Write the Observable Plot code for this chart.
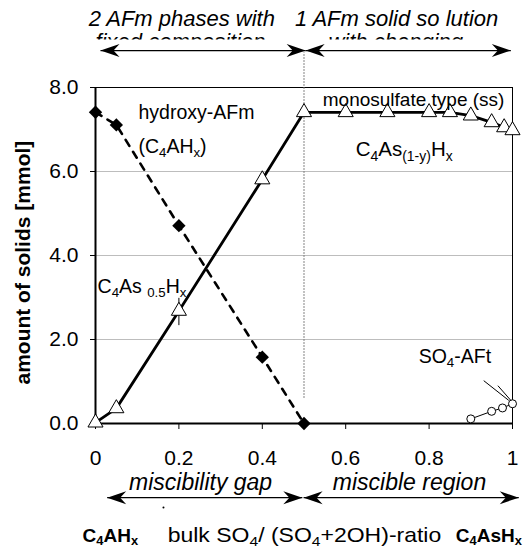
<!DOCTYPE html>
<html><head><meta charset="utf-8">
<script src="https://cdn.jsdelivr.net/npm/d3@7"></script>
<script src="https://cdn.jsdelivr.net/npm/@observablehq/plot@0.6"></script>
<style>body{margin:0;background:#fff;}</style>
</head><body><div id="chart"></div>
<script>
// ---- data ----
const triX = [0, 0.05, 0.2, 0.4, 0.5, 0.6, 0.7, 0.8, 0.85, 0.9, 0.95, 0.98, 1.0];
const triY = [0.02, 0.36, 2.68, 5.81, 7.41, 7.41, 7.41, 7.41, 7.41, 7.33, 7.17, 7.05, 6.98];
const diaX = [0, 0.05, 0.2, 0.4, 0.5];
const diaY = [7.41, 7.11, 4.71, 1.58, 0];
const circX = [0.9, 0.95, 0.976, 1.0];
const circY = [0.11, 0.29, 0.37, 0.47];
const errX = [0.2];
const errLo = [2.33];
const errHi = [2.98];
const xTicks = [0, 0.2, 0.4, 0.6, 0.8, 1];
const yTicks = [0, 2, 4, 6, 8];
const gridY = [2, 4, 6];
const topLine1 = ["2 AFm phases with", "1 AFm solid so lution"];
const topLine2 = ["fixed composition", "with changing"];
const bottomLine = ["miscibility gap", "miscible region"];

const FONT = '"Liberation Sans", Arial, sans-serif';
const tri = triX.map((x, i) => ({x, y: triY[i]}));
const dia = diaX.map((x, i) => ({x, y: diaY[i]}));
const circ = circX.map((x, i) => ({x, y: circY[i]}));
const err = errX.map((x, i) => ({x, y1: errLo[i], y2: errHi[i]}));

// arrow head symbols (tip at origin)
const headR = {draw(ctx) { ctx.moveTo(0, 0); ctx.lineTo(-19, -6.5); ctx.lineTo(-13, 0); ctx.lineTo(-19, 6.5); ctx.closePath(); }};
const headL = {draw(ctx) { ctx.moveTo(0, 0); ctx.lineTo(19, -6.5); ctx.lineTo(13, 0); ctx.lineTo(19, 6.5); ctx.closePath(); }};

// region arrows (data coords)
const topY = 8.88, botY = -1.765;
const arrows = [
  {x1: 0.012, x2: 0.504, y: topY},
  {x1: 0.504, x2: 0.996, y: topY},
  {x1: 0.028, x2: 0.496, y: botY},
  {x1: 0.499, x2: 1.015, y: botY}
];

const plot = Plot.plot({
  width: 524, height: 550,
  marginLeft: 95, marginRight: 12, marginTop: 87, marginBottom: 127,
  style: {fontFamily: FONT, fontSize: "21px", background: "#fff", color: "black", overflow: "visible"},
  x: {domain: [0, 1], ticks: xTicks, tickFormat: d => String(d), tickSize: 6, tickPadding: 21, label: null},
  y: {domain: [0, 8], ticks: yTicks, tickFormat: d => d.toFixed(1), tickSize: 5, tickPadding: 12, label: null},
  marks: [
    Plot.ruleY(gridY, {stroke: "#bdbdbd", strokeWidth: 1}),
    Plot.frame({stroke: "black", strokeWidth: 1}),
    Plot.ruleX([0], {stroke: "black", strokeWidth: 2}),
    Plot.ruleY([0], {stroke: "black", strokeWidth: 2}),
    Plot.ruleX([0.5], {y1: 0.6, y2: 8.83, stroke: "#777", strokeWidth: 1.2, strokeDasharray: "1.5,1.5"}),
    // data lines
    Plot.line(dia, {x: "x", y: "y", stroke: "black", strokeWidth: 2.6, strokeDasharray: "7,7"}),
    Plot.line(tri, {x: "x", y: "y", stroke: "black", strokeWidth: 2.8}),
    Plot.line(circ, {x: "x", y: "y", stroke: "black", strokeWidth: 1}),
    Plot.ruleX(err, {x: "x", y1: "y1", y2: "y2", stroke: "black", strokeWidth: 1}),
    // markers
    Plot.dot(dia, {x: "x", y: "y", symbol: "diamond2", r: 6, fill: "black", stroke: "none"}),
    Plot.dot(tri, {x: "x", y: "y", symbol: "triangle", r: 5.6, fill: "white", stroke: "black", strokeWidth: 1}),
    Plot.dot(circ, {x: "x", y: "y", symbol: "circle", r: 4, fill: "white", stroke: "black", strokeWidth: 1}),
    // SO4-AFt pointer
    Plot.link([{x1: 0.931, y1: 1.02, x2: 0.991, y2: 0.55}, {x1: 0.965, y1: 0.90, x2: 0.996, y2: 0.55}],
      {x1: "x1", y1: "y1", x2: "x2", y2: "y2", stroke: "black", strokeWidth: 1}),
    // region arrows
    Plot.link(arrows, {x1: "x1", x2: "x2", y1: "y", y2: "y", stroke: "black", strokeWidth: 1.3}),
    Plot.dot(arrows, {x: "x2", y: "y", symbol: headR, r: 5, fill: "black", stroke: "none"}),
    Plot.dot(arrows, {x: "x1", y: "y", symbol: headL, r: 5, fill: "black", stroke: "none"}),
    Plot.dot([{x: 0.163, y: -2.0}], {x: "x", y: "y", r: 1, fill: "black", stroke: "none"}),
    // top region text
    Plot.text(topLine1, {x: (d, i) => [0.207, 0.722][i], y: () => 9.476, text: d => d, fontSize: 22, fontStyle: "italic", textAnchor: "middle", lineAnchor: "bottom", fill: "black"}),
    Plot.text(topLine2, {x: (d, i) => [0.204, 0.72][i], y: () => 8.905, text: d => d, fontSize: 22, fontStyle: "italic", textAnchor: "middle", lineAnchor: "bottom", fill: "black"}),
    // bottom region text
    Plot.text(bottomLine, {x: (d, i) => [0.252, 0.753][i], y: () => -1.595, text: d => d, fontSize: 23, fontStyle: "italic", textAnchor: "middle", lineAnchor: "bottom", fill: "black"}),
    // annotations (rich text with subscripts)
    Plot.text([
      {x: 0.103, y: 7.26, t: "hydroxy-AFm", s: 19.5},
      {x: 0.103, y: 6.45, t: "(C{4}AH{x})", s: 19.5},
      {x: 0.005, y: 3.10, t: "C{4}As {0.5}H{x}", s: 19.5},
      {x: 0.545, y: 7.55, t: "monosulfate type (ss)", s: 19},
      {x: 0.624, y: 6.36, t: "C{4}As{(1-y)}H{x}", s: 20.5},
      {x: 0.775, y: 1.43, t: "SO{4}-AFt", s: 19.5},
      {x: 0.173, y: -2.81, t: "bulk SO{4}/ (SO{4}+2OH)-ratio", s: 20}
    ], {x: "x", y: "y", text: "t", fontSize: "s", textAnchor: "start", lineAnchor: "bottom", fill: "black"}),
    Plot.text([
      {x: -0.031, y: -2.81, t: "C{4}AH{x}"},
      {x: 0.864, y: -2.81, t: "C{4}AsH{x}"}
    ], {x: "x", y: "y", text: "t", fontSize: 19, fontWeight: "bold", textAnchor: "start", lineAnchor: "bottom", fill: "black"}),
    // y axis title
    Plot.text(["amount of solids [mmol]"], {x: () => -0.173, y: () => 3.83, text: d => d, rotate: -90, fontSize: 21, fontWeight: "bold", textAnchor: "middle", lineAnchor: "middle", fill: "black"})
  ]
});

// subscripts: {…} -> smaller, lowered tspan
d3.select(plot).selectAll("text").filter(function () { return /\{/.test(this.textContent); }).each(function () {
  const el = d3.select(this);
  const s = this.textContent;
  el.text(null);
  const parts = s.split(/(\{[^}]*\})/).filter(p => p.length);
  let lowered = false;
  for (const p of parts) {
    if (p.startsWith("{")) {
      el.append("tspan").attr("font-size", "68%").attr("dy", "0.3em").text(p.slice(1, -1));
      lowered = true;
    } else {
      const t = el.append("tspan").text(p);
      if (lowered) { t.attr("dy", "-0.204em"); lowered = false; }
    }
  }
});

// wide lettering of the bottom ratio label
d3.select(plot).selectAll("text").filter(function () { return this.textContent.startsWith("bulk"); })
  .attr("transform", function () { return (this.getAttribute("transform") || "") + " scale(1.15,1)"; });

// clip the partially hidden second lines at the top
const yClip = plot.scale("y").apply(9.14);
const defs = d3.select(plot).insert("defs", ":first-child");
defs.append("clipPath").attr("id", "topclip").attr("clipPathUnits", "userSpaceOnUse").append("rect")
  .attr("x", -50).attr("y", -50).attr("width", 650).attr("height", yClip + 50);
d3.select(plot).selectAll("text").filter(function () { return topLine2.includes(this.textContent); })
  .each(function () { d3.select(this.parentNode).attr("clip-path", "url(#topclip)"); });

document.getElementById("chart").appendChild(plot);
</script>
</body></html>
